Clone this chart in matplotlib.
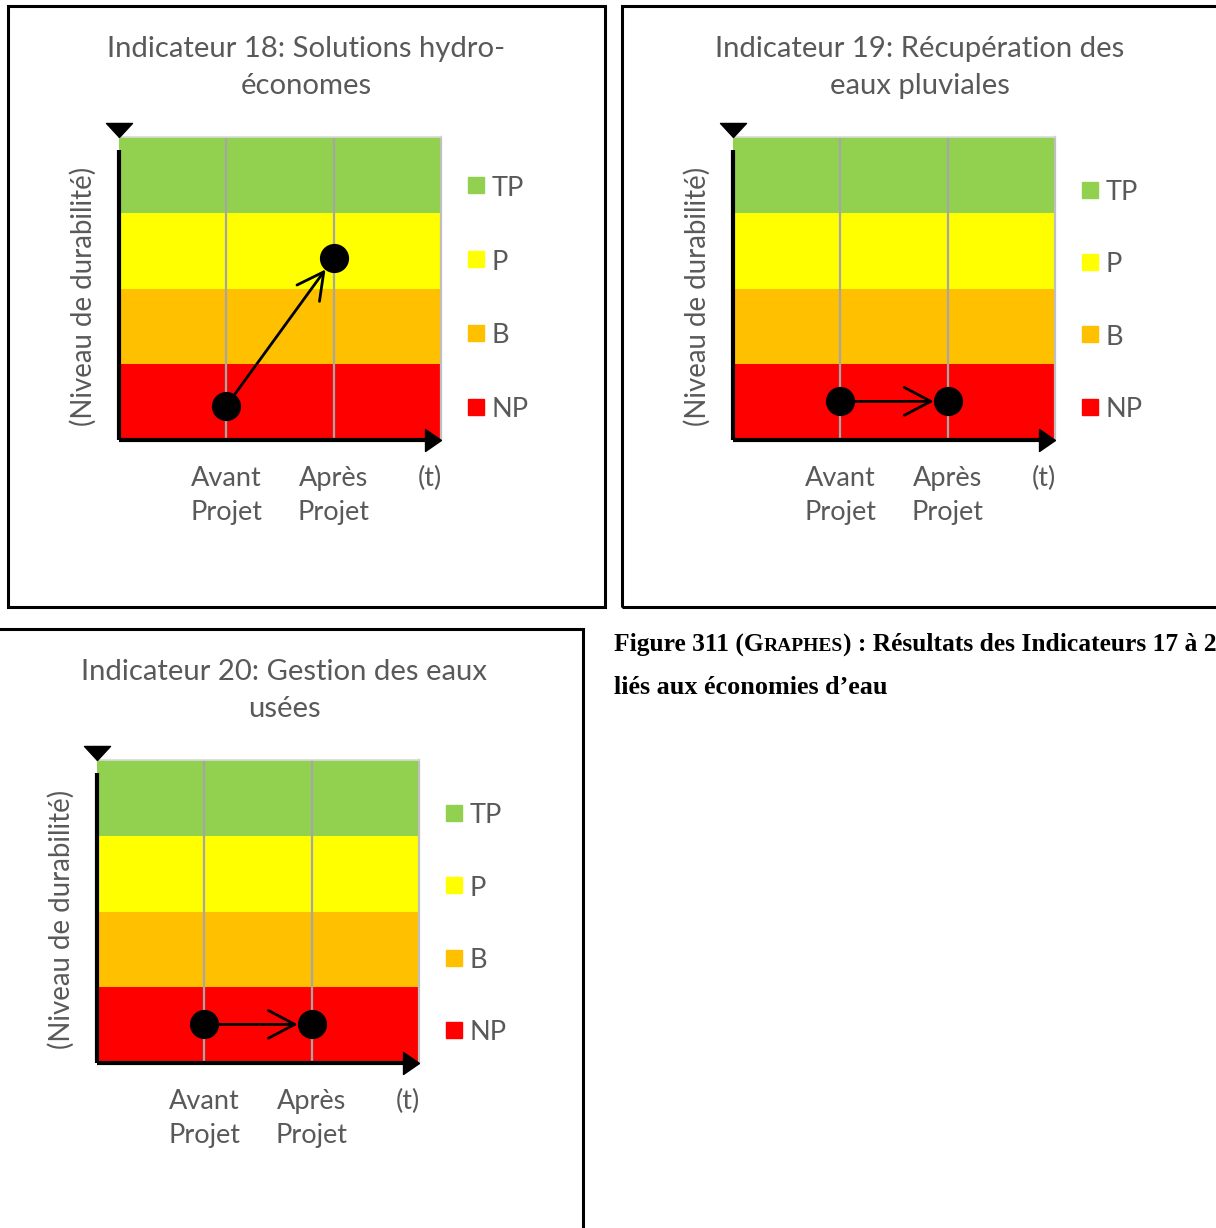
import matplotlib
matplotlib.use("Agg")
import matplotlib.pyplot as plt
from matplotlib.patches import Rectangle
from matplotlib.path import Path

# --- data -------------------------------------------------------------
titles = [
    "Indicateur 18: Solutions hydro-\néconomes",
    "Indicateur 19: Récupération des\neaux pluviales",
    "Indicateur 20: Gestion des eaux\nusées",
]
avant_values = [0.45, 0.51, 0.51]
apres_values = [2.4, 0.51, 0.51]
x_positions = [1, 2]
x_labels = ["Avant\nProjet", "Après\nProjet"]
levels = ["NP", "B", "P", "TP"]
level_colors = ["#FF0000", "#FFC000", "#FFFF00", "#92D050"]
y_label = "(Niveau de durabilité)"
caption_lines = ["Figure 311 (G", "RAPHES", ") : Résultats des Indicateurs 17 à 20"]
caption_line2 = "liés aux économies d\u2019eau"

# --- layout (pixels) --------------------------------------------------
W, H = 1216, 1228
plot_origins = [(119, 137), (733, 137), (97, 760)]   # top-left of the coloured area
PW, PH = 322, 303
TEXT = "#595959"
FONT = "Lato"

fig = plt.figure(figsize=(W / 100, H / 100), dpi=100)


def fx(x):
    return x / W


def fy(y):
    return 1 - y / H


tri_down = Path([(0, 0), (-1, 1.08), (1, 1.08), (0, 0)])
tri_right = Path([(0, 0), (-1.45, 1), (-1.45, -1), (0, 0)])

for i, (x0, y0) in enumerate(plot_origins):
    # panel frame
    fig.patches.append(Rectangle((fx(x0 - 111), fy(y0 + PH + 167)), 597 / W, 601 / H,
                                 transform=fig.transFigure, fill=False,
                                 edgecolor="black", lw=2.2, zorder=0))

    ax = fig.add_axes([fx(x0), fy(y0 + PH), PW / W, PH / H])
    ax.set_xlim(0, 3)
    ax.set_ylim(0, 4)
    for k, c in enumerate(level_colors):
        ax.axhspan(k, k + 1, color=c, lw=0, zorder=0)
    for xp in x_positions:
        ax.axvline(xp, color="#A6A6A6", lw=1.6, zorder=1)

    for s in ax.spines.values():
        s.set_visible(False)
    ax.plot([3, 3], [0, 4], color="#BFBFBF", lw=1.6, clip_on=False, zorder=1)
    ax.plot([0, 3], [4, 4], color="#D9D9D9", lw=1.2, clip_on=False, zorder=1)

    # axis arrows
    ax.plot([0, 0], [0, 3.83], color="black", lw=3, clip_on=False, zorder=3,
            solid_capstyle="butt")
    ax.plot([0, 2.88], [0, 0], color="black", lw=3, clip_on=False, zorder=3,
            solid_capstyle="butt")
    ax.plot([0], [4], marker=tri_down, markersize=20.2, color="black",
            clip_on=False, zorder=4, lw=0)
    ax.plot([3], [0], marker=tri_right, markersize=23, color="black",
            clip_on=False, zorder=4, lw=0)

    ax.set_xticks(x_positions + [2.9], x_labels + ["(t)"])
    ax.set_yticks([])
    ax.tick_params(axis="x", length=0, pad=19, labelsize=19.5, labelcolor=TEXT)
    for lab in ax.get_xticklabels():
        lab.set_fontfamily(FONT)
        lab.set_linespacing(1.45)

    ax.text(-0.112, 0.474, y_label, transform=ax.transAxes, rotation=90,
            ha="center", va="center", fontsize=19.9, color=TEXT, family=FONT)

    # points and arrow
    ax.plot([1, 2], [avant_values[i], apres_values[i]], "o", color="black",
            markersize=20, zorder=5, clip_on=False)
    ax.annotate("", xy=(2, apres_values[i]), xytext=(1, avant_values[i]),
                arrowprops=dict(arrowstyle="->,head_length=0.95,head_width=0.5",
                                mutation_scale=20, color="black", lw=2,
                                shrinkA=9, shrinkB=10), zorder=4)

    # title
    fig.text(fx(x0 + 187), fy(y0 - 69.5), titles[i], ha="center", va="center",
             fontsize=21.1, color=TEXT, family=FONT, linespacing=1.55)

    # legend
    for k, (name, c) in enumerate(zip(levels, level_colors)):
        yc = 270 - k * 72.5 if i else 270 - k * 74
        ax.plot([(476 - 119) / PW * 3], [(PH - yc) / PH * 4], marker="s",
                markersize=11.5, color=c, lw=0, clip_on=False)
        ax.text((492 - 119) / PW * 3, (PH - yc - 3) / PH * 4, name, ha="left",
                va="center", fontsize=19.5, color=TEXT, family=FONT)

# caption with small caps "GRAPHES"
cap_kw = dict(family="Liberation Serif", weight="bold", color="black")
t1 = fig.text(fx(614), fy(651), caption_lines[0], fontsize=18.4, va="baseline", **cap_kw)
t2 = fig.text(0, 0, caption_lines[1], fontsize=14.0, va="baseline", **cap_kw)
t3 = fig.text(0, 0, caption_lines[2], fontsize=18.4, va="baseline", **cap_kw)
fig.canvas.draw()
r = fig.canvas.get_renderer()
b1 = t1.get_window_extent(r)
t2.set_position((b1.x1 / W, fy(651)))
b2 = t2.get_window_extent(r)
t3.set_position((b2.x1 / W, fy(651)))
fig.text(fx(614), fy(694), caption_line2, fontsize=18.8, va="baseline", **cap_kw)

fig.savefig("out.png", dpi=100)
